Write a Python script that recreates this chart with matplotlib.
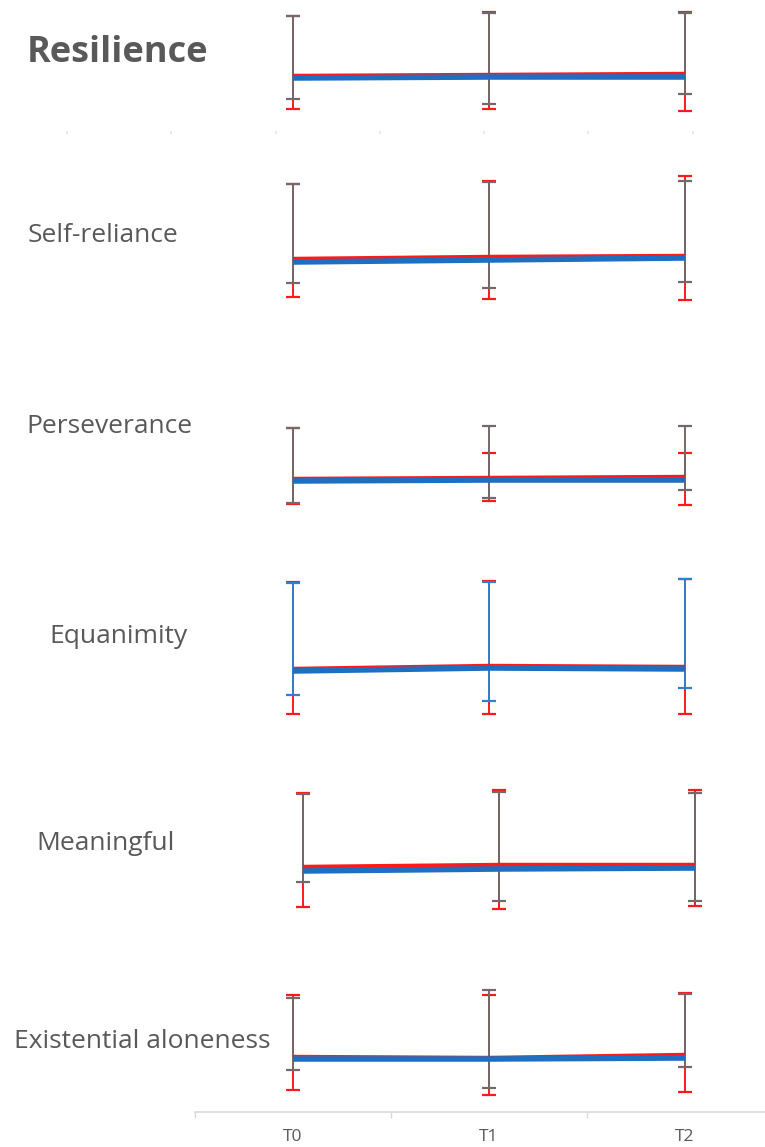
import numpy as np
import matplotlib.pyplot as plt

plt.rcParams['font.family'] = ['Open Sans', 'DejaVu Sans']

W, H = 765, 1147
times = ['T0', 'T1', 'T2']
x = np.arange(3)

# one panel per scale; values on an arbitrary score axis
names = ['Resilience', 'Self-reliance', 'Perseverance', 'Equanimity',
         'Meaningful', 'Existential aloneness']

blue_mean = [[56, 57, 57], [58, 60, 62], [39, 40, 40],
             [59, 62, 61], [49, 51, 52], [53, 53, 54]]
blue_hi = [[118, 121, 121], [136, 138, 139], [92, 94, 94],
           [147, 148, 151], [126, 128, 127], [114, 122, 118]]
blue_lo = [[35, 30, 40], [37, 32, 38], [17, 22, 30],
           [35, 29, 42], [38, 19, 19], [42, 24, 45]]

red_mean = [[58, 59, 60], [61, 63, 64], [41, 42, 43],
            [61, 64, 63], [53, 55, 55], [55, 54, 57]]
red_hi = [[118, 122, 122], [136, 139, 144], [92, 67, 67],
          [148, 149, 151], [127, 130, 130], [117, 117, 119]]
red_lo = [[25, 25, 23], [23, 21, 20], [16, 19, 15],
          [16, 16, 16], [13, 11, 14], [22, 17, 20]]

# layout in pixels: (top, bottom) of each band, x shift of the panel
bands = [(0, 134), (150, 320), (400, 520), (560, 730), (770, 920), (975, 1112)]
shifts = [0, 0, 0, 0, 10, 0]
label_pos = [(27, 62), (28, 242), (26, 433), (49, 643), (36, 850), (14, 1048)]

gray = '#756868'
red = '#ff1a1a'
blue = '#1f6fc1'
txt = '#595959'

fig = plt.figure(figsize=(W / 100, H / 100), dpi=100)

x0, step = 195, 196
for i, name in enumerate(names):
    top, bot = bands[i]
    left = 0 if i == 0 else x0
    ax = fig.add_axes([left / W, 1 - bot / H, (W - left) / W, (bot - top) / H])
    sh = shifts[i] / step
    lo = -0.5 - sh - (x0 - left) / step
    ax.patch.set_alpha(0)
    for s in ax.spines.values():
        s.set_visible(False)
    ax.set_yticks([])
    ax.set_xticks([])

    ecol = '#2f80d0' if name == 'Equanimity' else gray
    rm, bm = np.array(red_mean[i]), np.array(blue_mean[i])
    ax.errorbar(x, rm, yerr=[rm - red_lo[i], np.array(red_hi[i]) - rm],
                fmt='none', ecolor=red, elinewidth=1.4, capsize=5, capthick=1.6, zorder=2)
    ax.errorbar(x, bm, yerr=[bm - blue_lo[i], np.array(blue_hi[i]) - bm],
                fmt='none', ecolor=ecol, elinewidth=1.4, capsize=5, capthick=1.6, zorder=3)
    ax.plot(x, rm, color=red, lw=3.2, solid_capstyle='butt', zorder=4)
    ax.plot(x, bm, color=blue, lw=4.0, solid_capstyle='butt', zorder=5)

    if i == 0:
        # faint leftover ticks under the first panel
        ax.set_xticks(np.arange(-1.153, 2.2, 0.532))
        ax.tick_params(axis='x', length=2.5, width=1.2, color='#e4e4e4',
                       labelbottom=False, direction='in')
    if i == len(names) - 1:
        ax.spines['bottom'].set_visible(True)
        ax.spines['bottom'].set_color('#d9d9d9')
        ax.spines['bottom'].set_linewidth(1.2)
        ax.set_xticks([-0.5, 0.5, 1.5])
        ax.set_xticklabels([])
        ax.set_xticks(x, minor=True)
        ax.set_xticklabels(times, minor=True)
        ax.tick_params(axis='x', which='major', length=4, width=1.0,
                       color='#d9d9d9', direction='out')
        ax.tick_params(axis='x', which='minor', length=0, pad=12,
                       labelsize=12.5, labelcolor=txt)

    ax.set_xlim(lo, lo + (W - left) / step)
    ax.set_ylim(0, bot - top)

    lx, ly = label_pos[i]
    fig.text(lx / W, 1 - ly / H, name, color=txt, va='baseline', ha='left',
             fontsize=26 if i == 0 else 19, fontweight='bold' if i == 0 else 'normal')

fig.savefig('out.png', dpi=100)
